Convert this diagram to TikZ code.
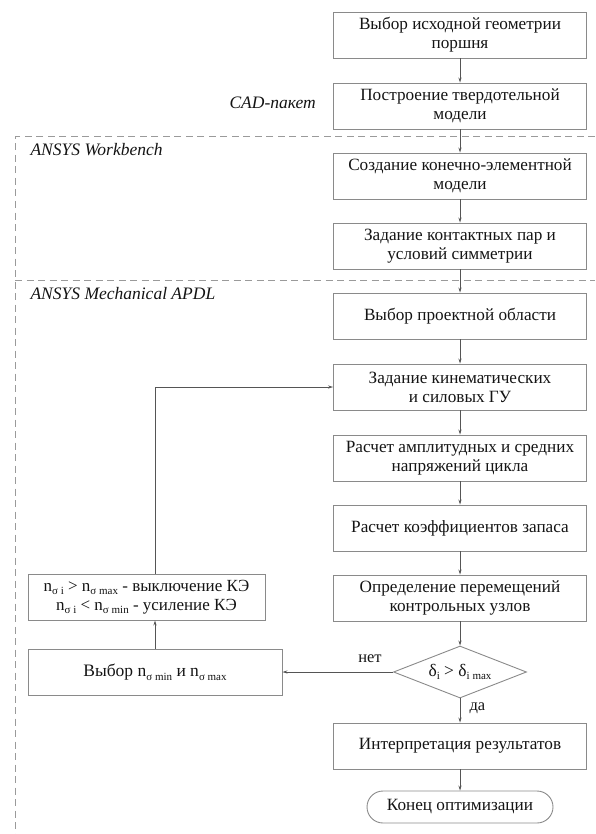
\documentclass[tikz,border=0pt]{standalone}
\usepackage{fontspec}
\setmainfont{Liberation Serif}
\usetikzlibrary{arrows.meta,shapes.geometric}
\definecolor{boxgray}{HTML}{8A8A8A}
\definecolor{linegray}{HTML}{555555}
\definecolor{dashgray}{HTML}{9A9A9A}
\newcommand{\sbx}[1]{\raisebox{-0.45ex}{\fontsize{11}{11}\selectfont #1}}
\begin{document}
\begin{tikzpicture}[x=1pt,y=-1pt,
  every node/.style={text=black!92},
  box/.style={draw=boxgray, line width=0.9pt, minimum width=253pt, minimum height=46pt,
    align=center, inner sep=2pt, font=\fontsize{17.2}{19}\selectfont},
  dec/.style={draw=boxgray, line width=0.9pt, shape=diamond, aspect=2.56,
    minimum width=133pt, minimum height=52pt, inner sep=0pt, font=\fontsize{17.5}{19}\selectfont},
  term/.style={draw=boxgray, line width=0.9pt, rounded corners=16pt, minimum width=186pt,
    minimum height=32pt, font=\fontsize{17.2}{19}\selectfont},
  arr/.style={draw=linegray, line width=0.8pt, -{Stealth[length=5pt,width=3.2pt]}},
  dashline/.style={draw=dashgray, line width=1pt, dash pattern=on 7pt off 4.5pt},
  zone/.style={font=\itshape\fontsize{17.5}{19}\selectfont, anchor=west},
  lab/.style={font=\fontsize{16.5}{18}\selectfont}
]
\useasboundingbox (0,0) rectangle (595,834);

% zones
\draw[dashline] (595,137) -- (15,137) -- (15,834);
\draw[dashline] (15,280) -- (595,280);
\node[zone] (zcad) at (226,103) {CAD-пакет};
\node[zone] (zwb) at (27,150) {ANSYS Workbench};
\node[zone] (zapdl) at (27,294) {ANSYS Mechanical APDL};

% main column
\node[box] (b1) at (460,35) {Выбор исходной геометрии\\поршня};
\node[box] (b2) at (460,106) {Построение твердотельной\\модели};
\node[box] (b3) at (460,176) {Создание конечно-элементной\\модели};
\node[box] (b4) at (460,246) {Задание контактных пар и\\условий симметрии};
\node[box] (b5) at (460,316) {Выбор проектной области};
\node[box] (b6) at (460,387) {Задание кинематических\\и силовых ГУ};
\node[box] (b7) at (460,458) {Расчет амплитудных и средних\\напряжений цикла};
\node[box] (b8) at (460,528) {Расчет коэффициентов запаса};
\node[box] (b9) at (460,598) {Определение перемещений\\контрольных узлов};
\node[dec] (d) at (460,672) {δ\sbx{i} > δ\sbx{i max}};
\node[box] (b10) at (460,746) {Интерпретация результатов};
\node[term] (t) at (460,807) {Конец оптимизации};

% left column
\node[box, minimum width=237pt, font=\fontsize{17}{19}\selectfont] (ba) at (146.5,597)
  {n\sbx{σ i} > n\sbx{σ max} - выключение КЭ\\n\sbx{σ i} < n\sbx{σ min} - усиление КЭ};
\node[box, minimum width=254pt, font=\fontsize{17.5}{19}\selectfont] (bb) at (155,672) {Выбор n\sbx{σ min} и n\sbx{σ max}};

% connectors
\draw[arr] (b1) -- (b2);
\draw[arr] (b2) -- (b3);
\draw[arr] (b3) -- (b4);
\draw[arr] (b4) -- (b5);
\draw[arr] (b5) -- (b6);
\draw[arr] (b6) -- (b7);
\draw[arr] (b7) -- (b8);
\draw[arr] (b8) -- (b9);
\draw[arr] (b9) -- (d);
\draw[arr] (d) -- (b10);
\draw[arr] (b10) -- (t);
\node[lab, anchor=west] (lda) at (466,708) {да};
\draw[arr] (d.west) -- (bb.east);
\node[lab] (lnet) at (370,659) {нет};
\draw[arr] (bb.north) -- (bb.north |- ba.south);
\draw[arr] (bb.north |- ba.north) -- (bb.north |- b6.west) -- (b6.west);
\end{tikzpicture}
\end{document}
